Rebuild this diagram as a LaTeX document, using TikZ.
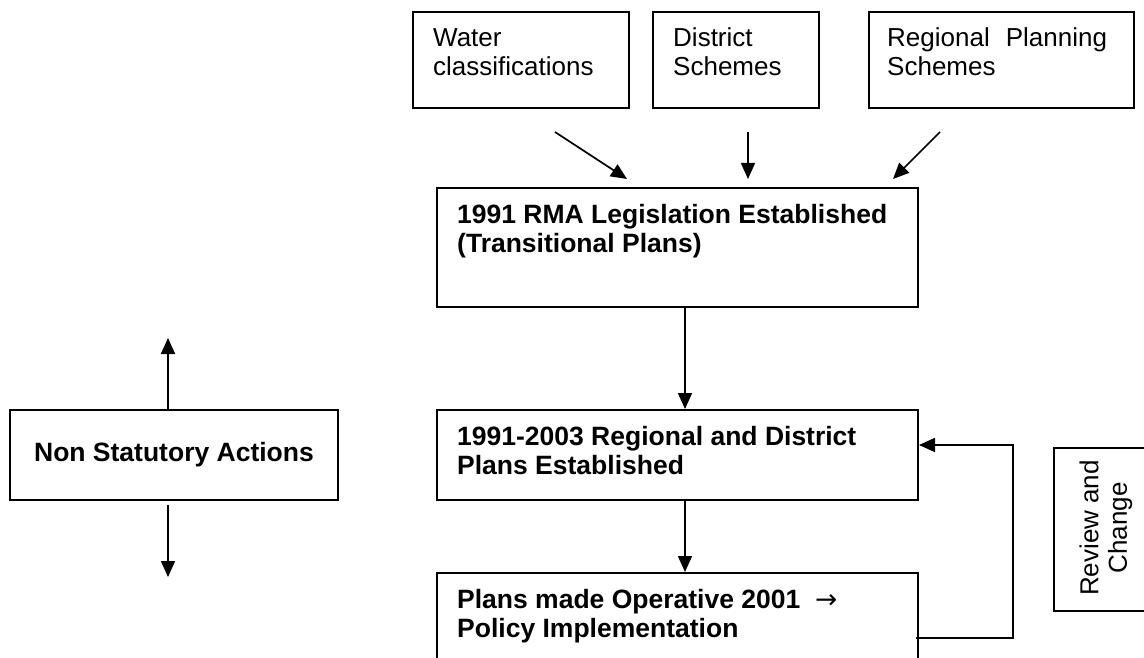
\documentclass[tikz,border=0pt]{standalone}
\usepackage{fontspec}
\setmainfont{Liberation Sans}
\newfontfamily\arrowfont{DejaVu Sans}
\usetikzlibrary{arrows.meta}

\tikzset{
  box/.style={draw, line width=2pt, anchor=north west, inner sep=0pt},
  txt/.style={anchor=base west, inner sep=0pt, align=left, font=\fontsize{26}{28.5}\selectfont},
  btxt/.style={txt, font=\fontsize{26.5}{29}\selectfont\bfseries},
  arr/.style={-{Triangle[length=16pt,width=14pt]}, line width=1.7pt}
}

\begin{document}
\begin{tikzpicture}[x=1pt, y=-1pt]
	\clip (0,0) rectangle (1144,658);

	% sources
	\node[box, minimum width=216pt, minimum height=96pt] (water) at (412,11) {};
	\node[box, minimum width=166pt, minimum height=96pt] (district) at (652,11) {};
	\node[box, minimum width=265pt, minimum height=96pt] (regional) at (868,11) {};
	\node[txt] (waterT) at (433,75.5) {Water\\classifications};
	\node[txt] (districtT) at (673,75.5) {District\\Schemes};
	\node[txt] (regionalT) at (887,75.5) {Regional\hspace{16pt}Planning\\Schemes};

	% main chain
	\node[box, minimum width=481pt, minimum height=119pt] (rma) at (436,187) {};
	\node[box, minimum width=481pt, minimum height=90pt] (plans) at (436,409) {};
	\node[box, minimum width=481pt, minimum height=120pt] (impl) at (436,572) {};
	\node[btxt] (rmaT) at (457,252) {1991 RMA Legislation Established\\(Transitional Plans)};
	\node[btxt] (plansT) at (457,474) {1991-2003 Regional and District\\Plans Established};
	\node[btxt] (implT) at (457,637) {Plans made Operative 2001\ \ {\arrowfont\mdseries →}\\Policy Implementation};

	% side boxes
	\node[box, minimum width=328pt, minimum height=90pt, font=\fontsize{26.5}{29}\selectfont\bfseries] (nsa) at (9,409) {Non Statutory Actions};
	\node[box, minimum width=120pt, minimum height=163pt] (review) at (1053,447) {};
	\node[txt, anchor=center, align=center, rotate=90] (reviewT) at (1106,528) {Review and\\Change};

	\coordinate (w0) at (555,132);
	\coordinate (w1) at (627,179);
	\coordinate (d0) at (748,132);
	\coordinate (d1) at (748,179);
	\coordinate (r0) at (940,132);
	\coordinate (r1) at (893,179);
	\draw[arr] (w0) -- (w1);
	\draw[arr] (d0) -- (d1);
	\draw[arr] (r0) -- (r1);

	\draw[arr] (rma.south west) ++(249,0) coordinate (a0) -- (a0 |- plans.north);
	\draw[arr] (plans.south west) ++(249,0) coordinate (b0) -- (b0 |- impl.north);

	% review loop
	\coordinate (fb0) at (916,638);
	\coordinate (fb1) at (1013,638);
	\coordinate (fb2) at (1013,445);
	\draw[arr] (fb0) -- (fb1) -- (fb2) -- (fb2 -| plans.east);

	% non statutory arrows
	\coordinate (up1) at (168,338);
	\coordinate (dn0) at (168,505);
	\coordinate (dn1) at (168,577);
	\draw[arr] (up1 |- nsa.north) -- (up1);
	\draw[arr] (dn0) -- (dn1);
\end{tikzpicture}
\end{document}
